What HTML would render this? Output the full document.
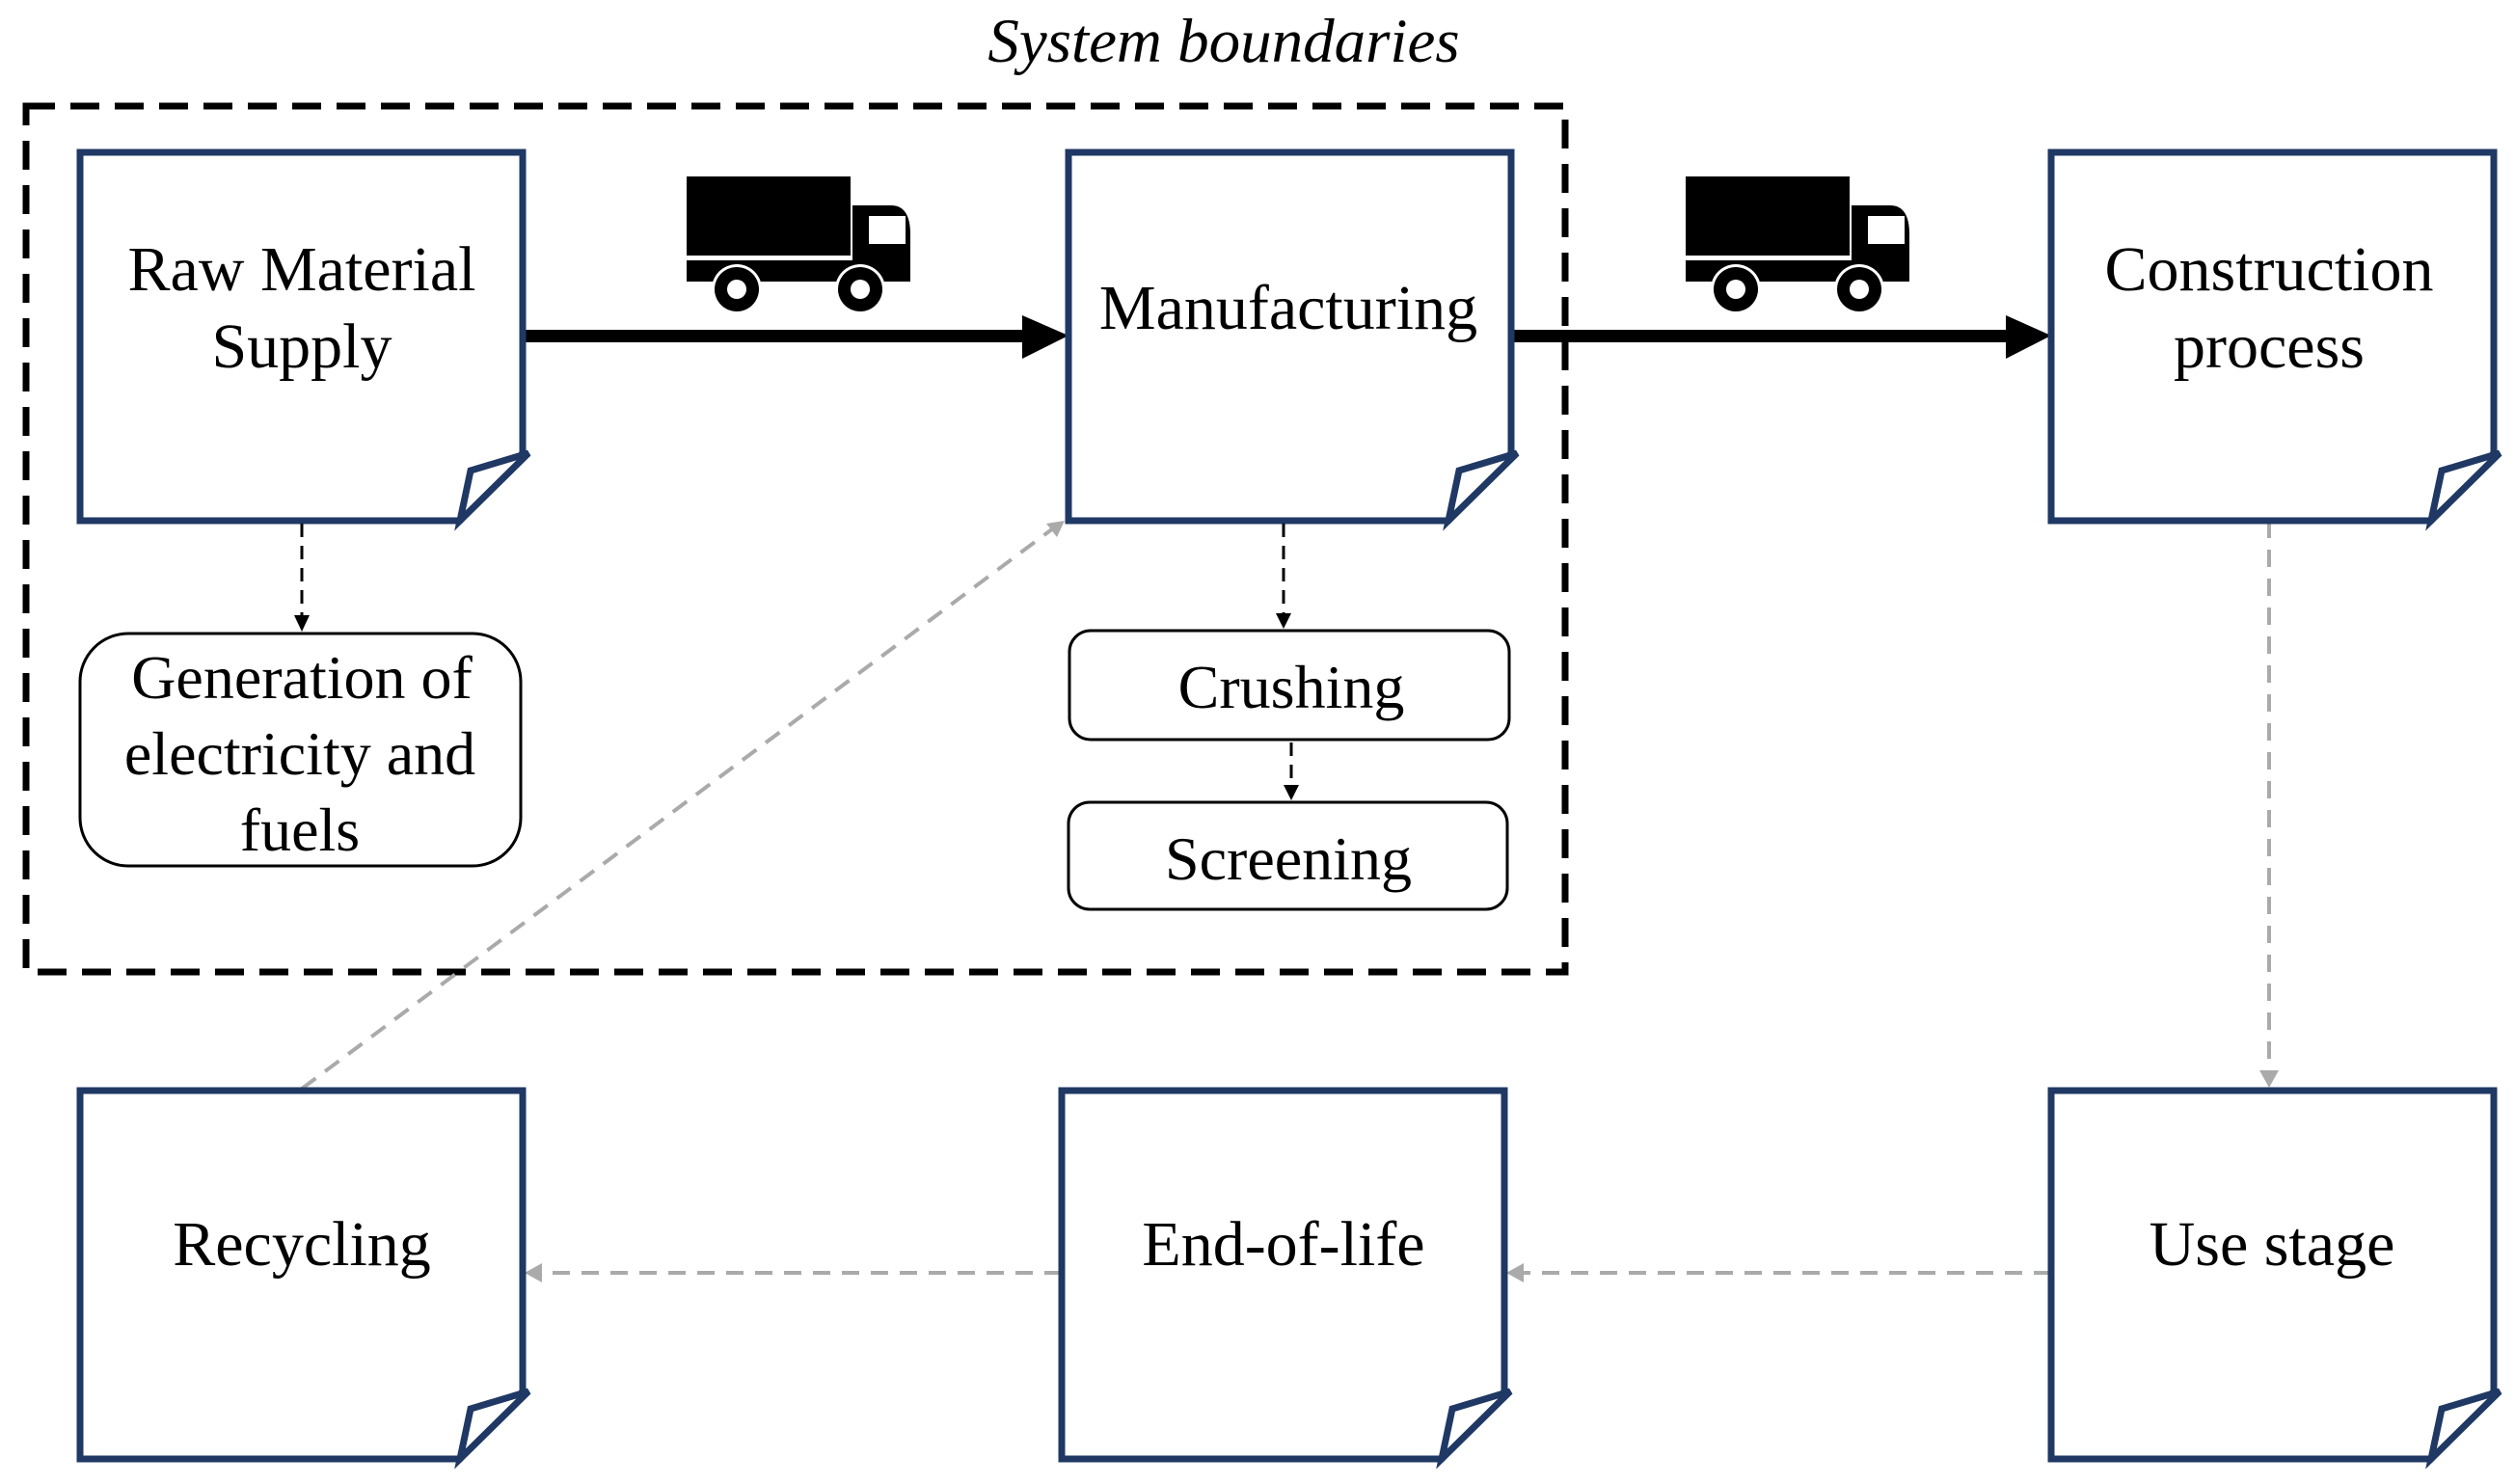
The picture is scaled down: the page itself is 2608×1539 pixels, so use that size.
<!DOCTYPE html>
<html><head><meta charset="utf-8"><style>
html,body{margin:0;padding:0;background:#fff;}
svg{display:block;}
text{font-family:"Liberation Serif",serif;fill:#000;}
</style></head><body>
<svg width="2608" height="1539" viewBox="0 0 2608 1539" xmlns="http://www.w3.org/2000/svg">
<defs>
<g id="truck">
<rect x="0" y="0" width="170" height="82" fill="#000"/>
<rect x="0" y="87" width="232" height="22" fill="#000"/>
<path d="M172 30 H212 Q232 30 232 60 V109 H172 Z" fill="#000"/>
<rect x="189" y="41" width="38" height="29" fill="#fff"/>
<circle cx="52" cy="117" r="26" fill="#fff"/>
<circle cx="180" cy="117" r="26" fill="#fff"/>
<circle cx="52" cy="117" r="23" fill="#000"/>
<circle cx="180" cy="117" r="23" fill="#000"/>
<circle cx="52" cy="117" r="10" fill="#fff"/>
<circle cx="180" cy="117" r="10" fill="#fff"/>
</g>
<g id="doc">
<path d="M0 0 H459 V312 L394 382 H0 Z" fill="#fff" stroke="#1f3864" stroke-width="7"/>
<path d="M394 382 L405 330 L465 312 Z" fill="#fff" stroke="#1f3864" stroke-width="7" stroke-linejoin="miter"/>
</g>
</defs>

<text x="1269" y="64" font-size="65" font-style="italic" text-anchor="middle">System boundaries</text>
<rect x="27" y="110" width="1596" height="898" fill="none" stroke="#000" stroke-width="7" stroke-dasharray="30,16"/>

<!-- grey dashed connectors -->
<g stroke="#aaa" stroke-width="4" stroke-dasharray="18,12" fill="none">
<line x1="2353" y1="540" x2="2353" y2="1112"/>
<line x1="2127" y1="1320" x2="1578" y2="1320"/>
<line x1="1101" y1="1320" x2="560" y2="1320"/>
<line x1="313" y1="1129" x2="1092" y2="548"/>
</g>
<g fill="#aaa">
<path d="M2343 1110 L2363 1110 L2353 1128 Z"/>
<path d="M1562 1320 L1580 1310 L1580 1330 Z"/>
<path d="M544 1320 L562 1310 L562 1330 Z"/>
<path d="M1104 540 L1085 543 L1096 557 Z"/>
</g>

<!-- thick arrows -->
<rect x="542" y="342" width="530" height="13" fill="#000"/>
<path d="M1060 327 L1108 348 L1060 372 Z" fill="#000"/>
<rect x="1565" y="342" width="520" height="13" fill="#000"/>
<path d="M2080 327 L2127 348 L2080 372 Z" fill="#000"/>

<!-- boxes -->
<use href="#doc" x="83" y="158"/>
<use href="#doc" x="1108" y="158"/>
<use href="#doc" x="2127" y="158"/>
<use href="#doc" x="83" y="1131"/>
<use href="#doc" x="1101" y="1131"/>
<use href="#doc" x="2127" y="1131"/>

<g font-size="66" text-anchor="middle">
<text x="313" y="301">Raw Material</text>
<text x="313" y="381">Supply</text>
<text x="1336" y="341">Manufacturing</text>
<text x="2353" y="301">Construction</text>
<text x="2353" y="381">process</text>
<text x="313" y="1312">Recycling</text>
<text x="1331" y="1312">End-of-life</text>
<text x="2356" y="1312">Use stage</text>
</g>

<use href="#truck" x="712" y="183"/>
<use href="#truck" x="1748" y="183"/>

<!-- small rounded boxes -->
<rect x="83" y="657" width="457" height="241" rx="50" fill="#fff" stroke="#000" stroke-width="3"/>
<rect x="1109" y="654" width="456" height="113" rx="22" fill="#fff" stroke="#000" stroke-width="3"/>
<rect x="1108" y="832" width="455" height="111" rx="22" fill="#fff" stroke="#000" stroke-width="3"/>
<g font-size="64" text-anchor="middle">
<text x="313" y="724">Generation of</text>
<text x="311" y="803">electricity and</text>
<text x="311" y="882">fuels</text>
<text x="1339" y="734">Crushing</text>
<text x="1336" y="912">Screening</text>
</g>

<!-- black dashed small arrows -->
<g stroke="#000" stroke-width="3" stroke-dasharray="14,9" fill="none">
<line x1="313" y1="543" x2="313" y2="640"/>
<line x1="1331" y1="543" x2="1331" y2="637"/>
<line x1="1339" y1="770" x2="1339" y2="815"/>
</g>
<g fill="#000">
<path d="M305 638 L321 638 L313 655 Z"/>
<path d="M1323 636 L1339 636 L1331 652 Z"/>
<path d="M1331 814 L1347 814 L1339 830 Z"/>
</g>
</svg>
</body></html>
